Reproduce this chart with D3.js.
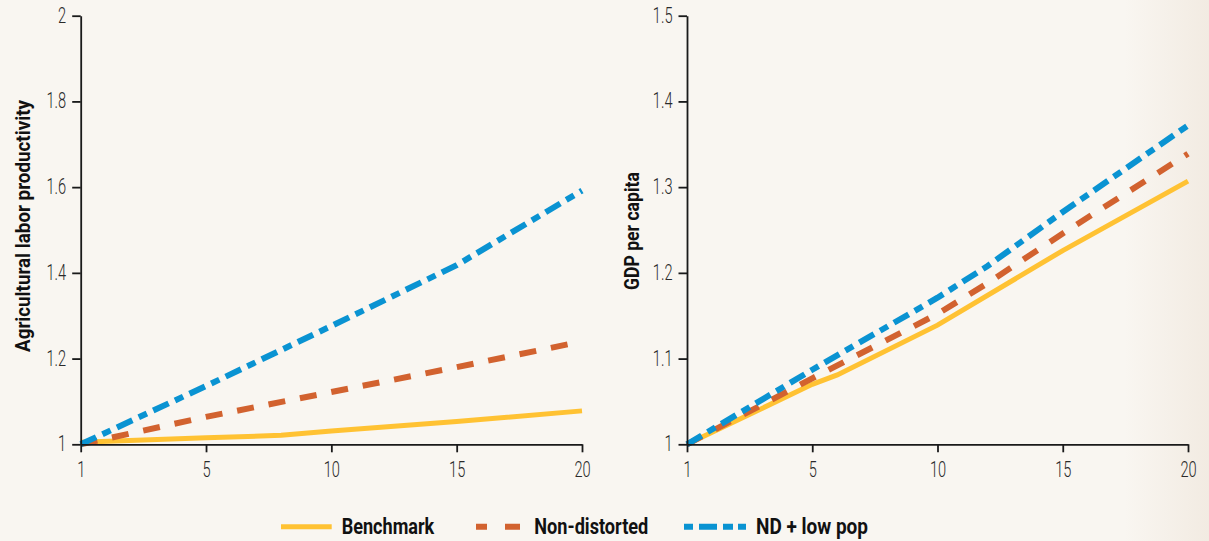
<!DOCTYPE html>
<html>
<head>
<meta charset="utf-8">
<script src="https://cdn.jsdelivr.net/npm/d3@7"></script>
<style>
  html, body { margin: 0; padding: 0; background: #f9f6f1; }
  svg { display: block; }
</style>
</head>
<body>
<svg id="chart" width="1209" height="541"></svg>
<script>
// ---------- DATA ----------
const xTicks = [1, 5, 10, 15, 20];
const leftYTicks = [1, 1.2, 1.4, 1.6, 1.8, 2];
const rightYTicks = [1, 1.1, 1.2, 1.3, 1.4, 1.5];

const leftTitle = "Agricultural labor productivity";
const rightTitle = "GDP per capita";
const seriesNames = ["Benchmark", "Non-distorted", "ND + low pop"];

// Left panel: agricultural labor productivity
const leftBenchX = [1, 5, 8, 10, 15, 20];
const leftBenchY = [1.005, 1.015, 1.021, 1.031, 1.053, 1.078];
const leftNDX = [1, 5, 10, 15, 20];
const leftNDY = [1.0, 1.064, 1.122, 1.18, 1.24];
const leftLowX = [1, 5, 10, 15, 20];
const leftLowY = [1.0, 1.136, 1.276, 1.418, 1.592];

// Right panel: GDP per capita
const rightBenchX = [1, 5, 6, 10, 15, 20];
const rightBenchY = [1.0, 1.070, 1.081, 1.139, 1.226, 1.307];
const rightNDX = [1, 5, 10, 12, 15, 20];
const rightNDY = [1.0, 1.077, 1.152, 1.188, 1.246, 1.339];
const rightLowX = [1, 5, 10, 12, 15, 20];
const rightLowY = [1.0, 1.087, 1.171, 1.208, 1.271, 1.372];

// ---------- STYLE ----------
const colors = ["#ffc233", "#d2622f", "#0a93d2"];
const dashes = [null, "17,15", "17,7,9,7"];
const legendDashes = [null, "11,18,15,100", "9,6,18,6,10,5,8,100"];

const svg = d3.select("#chart");

// background with slight right edge shading
const defs = svg.append("defs");
const grad = defs.append("linearGradient").attr("id", "bg").attr("x1", "0").attr("x2", "1").attr("y1", "0").attr("y2", "0");
grad.append("stop").attr("offset", "0").attr("stop-color", "#f9f6f1");
grad.append("stop").attr("offset", "0.93").attr("stop-color", "#f9f6f1");
grad.append("stop").attr("offset", "1").attr("stop-color", "#f2ebe2");
svg.append("rect").attr("width", 1209).attr("height", 541).attr("fill", "url(#bg)");

const tickFont = "Roboto, 'Liberation Sans', sans-serif";
const boldFont = "Roboto, 'Liberation Sans', sans-serif";

const plotTop = 15.7, plotBottom = 444.3;

function condense(sel, factor) {
  sel.each(function () {
    const len = this.getComputedTextLength();
    d3.select(this).attr("textLength", len * factor).attr("lengthAdjust", "spacingAndGlyphs");
  });
}

function panel(opts) {
  const g = svg.append("g");
  const x0 = opts.x0, x1 = opts.x1;
  const w = x1 - x0;
  // piecewise scale: period 1 at the left edge, uniform 5-period steps after
  const x = d3.scaleLinear().domain([1, 5, 20]).range([x0, x0 + w * 5 / 20, x1]);
  const y = d3.scaleLinear().domain(opts.yDomain).range([plotBottom, plotTop]);

  // lines
  const line = d3.line().x(d => x(d[0])).y(d => y(d[1]));
  opts.series.forEach((s, i) => {
    g.append("path")
      .datum(s.xs.map((v, k) => [v, s.ys[k]]))
      .attr("d", line)
      .attr("fill", "none")
      .attr("stroke", colors[i])
      .attr("stroke-width", i === 0 ? 5 : 6)
      .attr("stroke-dasharray", dashes[i])
      .attr("stroke-linecap", "butt");
  });

  // axes
  const yAxis = d3.axisLeft(y).tickValues(opts.yTicks).tickSize(8.5).tickSizeOuter(0).tickPadding(6)
    .tickFormat(d3.format("~g"));
  const xAxis = d3.axisBottom(x).tickValues(xTicks).tickSize(8).tickSizeOuter(0).tickPadding(6)
    .tickFormat(d3.format("d"));

  const ya = g.append("g").attr("transform", `translate(${x0},0)`).call(yAxis);
  const xa = g.append("g").attr("transform", `translate(0,${plotBottom})`).call(xAxis);
  [ya, xa].forEach(a => {
    a.select(".domain").attr("stroke", "#1a1a1a").attr("stroke-width", 1.8);
    a.selectAll(".tick line").attr("stroke", "#1a1a1a").attr("stroke-width", 1.8);
    a.selectAll(".tick text")
      .attr("fill", "#2a2a2a")
      .style("font-family", tickFont)
      .style("font-size", "21.5px")
      .style("font-weight", "300");
  });
  ya.selectAll(".tick text").attr("dy", "0.3em");
  xa.selectAll(".tick text").attr("y", 33).attr("dy", 0);
  condense(ya.selectAll(".tick text"), 0.68);
  condense(xa.selectAll(".tick text"), 0.68);

  // title
  g.append("text")
    .attr("transform", `translate(${opts.titleX},${opts.titleY}) rotate(-90)`)
    .attr("text-anchor", "middle")
    .attr("textLength", opts.titleLen)
    .attr("lengthAdjust", "spacingAndGlyphs")
    .style("font-family", boldFont)
    .style("font-weight", "bold")
    .style("font-size", "20.5px")
    .attr("fill", "#111")
    .text(opts.title);
}

panel({
  x0: 80.7, x1: 582, yDomain: [1, 2], yTicks: leftYTicks,
  title: leftTitle, titleX: 30, titleY: 226, titleLen: 252,
  series: [
    { xs: leftBenchX, ys: leftBenchY },
    { xs: leftNDX, ys: leftNDY },
    { xs: leftLowX, ys: leftLowY }
  ]
});

panel({
  x0: 687, x1: 1188, yDomain: [1, 1.5], yTicks: rightYTicks,
  title: rightTitle, titleX: 638.5, titleY: 231, titleLen: 118,
  series: [
    { xs: rightBenchX, ys: rightBenchY },
    { xs: rightNDX, ys: rightNDY },
    { xs: rightLowX, ys: rightLowY }
  ]
});

// legend
const legendY = 526.7;
const legendItems = [
  { x1: 281, x2: 331.7, tx: 341.7, tl: 92.6 },
  { x1: 476, x2: 520, tx: 534.3, tl: 114 },
  { x1: 684, x2: 746, tx: 756, tl: 112 }
];
const lg = svg.append("g");
legendItems.forEach((it, i) => {
  lg.append("line")
    .attr("x1", it.x1).attr("x2", it.x2)
    .attr("y1", legendY).attr("y2", legendY)
    .attr("stroke", colors[i])
    .attr("stroke-width", i === 0 ? 5 : 6)
    .attr("stroke-dasharray", legendDashes[i]);
  lg.append("text")
    .attr("x", it.tx).attr("y", 534.3)
    .attr("textLength", it.tl)
    .attr("lengthAdjust", "spacingAndGlyphs")
    .style("font-family", boldFont)
    .style("font-weight", "bold")
    .style("font-size", "22px")
    .attr("fill", "#111")
    .text(seriesNames[i]);
});
</script>
</body>
</html>
